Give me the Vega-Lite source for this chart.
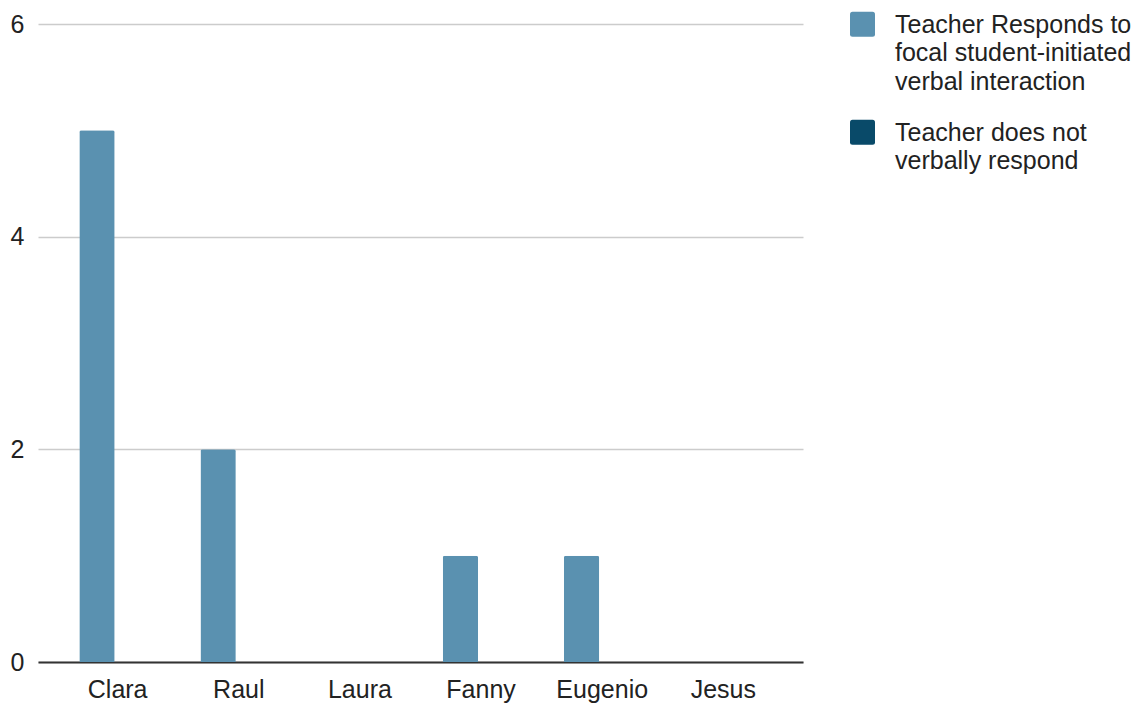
{
  "$schema": "https://vega.github.io/schema/vega-lite/v6.json",
  "width": 765,
  "height": 638,
  "autosize": {"type": "none"},
  "padding": {"left": 38, "top": 24, "right": 335, "bottom": 42},
  "config": {
    "view": {"stroke": null},
    "font": "Liberation Sans",
    "style": {"guide-label": {"lineHeight": 28.5}}
  },
  "data": {
    "values": [
      {"student": "Clara", "series": "Teacher Responds to focal student-initiated verbal interaction", "count": 5},
      {"student": "Clara", "series": "Teacher does not verbally respond", "count": 0},
      {"student": "Raul", "series": "Teacher Responds to focal student-initiated verbal interaction", "count": 2},
      {"student": "Raul", "series": "Teacher does not verbally respond", "count": 0},
      {"student": "Laura", "series": "Teacher Responds to focal student-initiated verbal interaction", "count": 0},
      {"student": "Laura", "series": "Teacher does not verbally respond", "count": 0},
      {"student": "Fanny", "series": "Teacher Responds to focal student-initiated verbal interaction", "count": 1},
      {"student": "Fanny", "series": "Teacher does not verbally respond", "count": 0},
      {"student": "Eugenio", "series": "Teacher Responds to focal student-initiated verbal interaction", "count": 1},
      {"student": "Eugenio", "series": "Teacher does not verbally respond", "count": 0},
      {"student": "Jesus", "series": "Teacher Responds to focal student-initiated verbal interaction", "count": 0},
      {"student": "Jesus", "series": "Teacher does not verbally respond", "count": 0}
    ]
  },
  "mark": {"type": "bar", "cornerRadiusTopLeft": 2, "cornerRadiusTopRight": 2},
  "encoding": {
    "x": {
      "field": "student",
      "type": "nominal",
      "sort": ["Clara", "Raul", "Laura", "Fanny", "Eugenio", "Jesus"],
      "scale": {"paddingInner": 0.367, "paddingOuter": 0.341},
      "axis": {
        "title": null,
        "labelAngle": 0,
        "ticks": false,
        "domainColor": "#333333",
        "domainWidth": 2,
        "labelFontSize": 25,
        "labelColor": "#222222",
        "labelPadding": 15
      }
    },
    "xOffset": {
      "field": "series",
      "type": "nominal",
      "sort": ["Teacher Responds to focal student-initiated verbal interaction", "Teacher does not verbally respond"],
      "scale": {"paddingInner": 0.145, "paddingOuter": 0}
    },
    "y": {
      "field": "count",
      "type": "quantitative",
      "scale": {"domain": [0, 6], "nice": false},
      "axis": {
        "title": null,
        "values": [0, 2, 4, 6],
        "domain": false,
        "ticks": false,
        "gridColor": "#cccccc",
        "gridWidth": 1.5,
        "labelFontSize": 25,
        "labelColor": "#222222",
        "labelPadding": 14
      }
    },
    "color": {
      "field": "series",
      "type": "nominal",
      "scale": {
        "domain": ["Teacher Responds to focal student-initiated verbal interaction", "Teacher does not verbally respond"],
        "range": ["#5a91b0", "#094a69"]
      },
      "legend": {
        "title": null,
        "orient": "none",
        "legendX": 812,
        "legendY": -4,
        "symbolType": "M-0.8,-1.66H0.8Q1,-1.66 1,-1.46V0.14Q1,0.34 0.8,0.34H-0.8Q-1,0.34 -1,0.14V-1.46Q-1,-1.66 -0.8,-1.66Z",
        "symbolSize": 625,
        "symbolStrokeWidth": 0,
        "symbolOpacity": 1,
        "labelFontSize": 25,
        "labelColor": "#222222",
        "labelOffset": 20,
        "labelLimit": 0,
        "labelBaseline": "alphabetic",
        "rowPadding": 24,
        "labelExpr": "datum.label == 'Teacher does not verbally respond' ? ['Teacher does not', 'verbally respond'] : ['Teacher Responds to', 'focal student-initiated', 'verbal interaction']"
      }
    }
  }
}
